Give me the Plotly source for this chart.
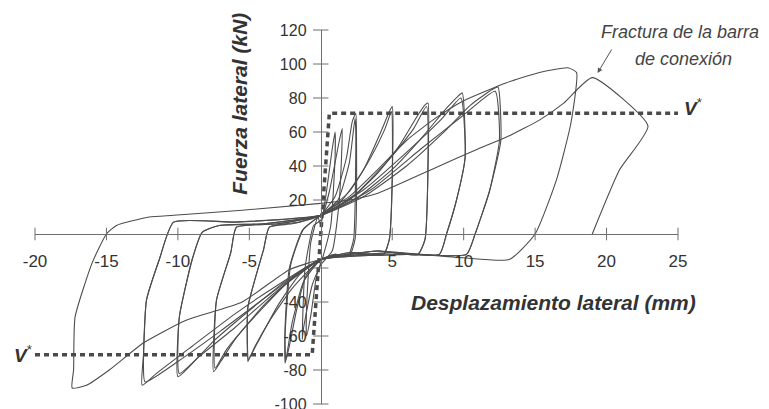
import plotly.graph_objects as go

# ---- hysteresis cycles (x: lateral displacement mm, y: lateral force kN) ----
c1_x = [0.0, 0.4, 0.8, 1.0, 1.0, 0.7, 0.2, -0.3, -0.7, -1.0, -1.0, -0.7, -0.2, 0.0]
c1_y = [5, 25, 50, 60, 45, 5, -12, -25, -48, -60, -45, -5, 10, 5]
c1b_x = [0.0, 0.6, 1.3, 1.5, 1.3, 0.8, 0.0, -0.6, -1.2, -1.3, -1.1, -0.5, 0.0]
c1b_y = [8, 25, 55, 62, 20, -10, -18, -30, -55, -62, -20, 5, 8]
c2_x = [0.0, 1.0, 1.8, 2.2, 2.45, 2.5, 2.4, 2.0, 1.0, 0.0, -1.0, -1.7, -2.2, -2.5, -2.5, -2.2, -1.3, -0.5, 0.0]
c2_y = [11, 22, 45, 66, 71, 55, -3, -13, -12, -15, -24, -45, -66, -76, -55, -20, 2, 8, 11]
c2b_x = [0.0, 1.2, 2.0, 2.4, 2.45, 2.3, 1.9, 1.0, 0.0, -1.2, -2.0, -2.45, -2.5, -2.1, -1.2, 0.0]
c2b_y = [11, 20, 42, 68, 60, -3, -13, -12, -15, -28, -52, -74, -60, -18, 3, 11]
c3_x = [0.0, 1.5, 3.0, 4.2, 4.8, 5.0, 5.0, 4.8, 4.4, 2.0, 0.0, -1.5, -3.0, -4.3, -5.0, -5.1, -5.1, -4.0, -3.6, -2.0, 0.0]
c3_y = [11, 20, 38, 60, 72, 75, 32, -3, -12, -11, -15, -24, -42, -62, -73, -75, -43, -9, 4, 6, 11]
c3b_x = [0.0, 2.0, 3.5, 4.5, 4.95, 5.0, 4.8, 4.4, 2.0, 0.0, -2.0, -3.5, -4.6, -5.05, -5.1, -4.0, -3.6, -1.5, 0.0]
c3b_y = [11, 25, 45, 62, 72, 32, -3, -12, -11, -15, -32, -50, -66, -74, -43, -9, 4, 7, 11]
c4_x = [0.0, 2.0, 4.0, 5.5, 6.8, 7.3, 7.5, 7.5, 7.3, 6.8, 4.0, 0.0, -2.0, -4.0, -6.0, -7.0, -7.5, -7.3, -6.3, -5.9, -3.0, 0.0]
c4_y = [11, 20, 36, 52, 70, 76, 77, 38, -3, -12, -10, -15, -26, -42, -62, -75, -81, -39, -11, 4, 6, 11]
c4b_x = [0.0, 2.5, 5.0, 6.5, 7.4, 7.5, 7.3, 6.8, 4.0, 0.0, -2.5, -5.0, -6.6, -7.4, -7.3, -6.3, -5.9, -3.0, 0.0]
c4b_y = [11, 24, 46, 62, 75, 38, -3, -12, -10, -15, -30, -52, -68, -79, -39, -11, 4, 6, 11]
c5_x = [0.0, 2.5, 5.0, 7.0, 8.8, 9.6, 9.9, 10.1, 9.5, 8.8, 8.3, 5.0, 0.0, -2.5, -5.0, -7.5, -9.2, -10.0, -9.9, -9.0, -8.3, -7.1, -4.0, 0.0]
c5_y = [11, 21, 38, 56, 74, 81, 83, 45, 20, 0, -12, -11, -15, -28, -45, -63, -78, -84, -49, -15, 1, 5, 6, 11]
c5b_x = [0.0, 3.0, 6.0, 8.5, 9.8, 10.1, 9.5, 8.8, 8.3, 5.0, 0.0, -3.0, -6.0, -8.5, -9.9, -9.9, -9.0, -8.3, -7.1, -4.0, 0.0]
c5b_y = [11, 26, 48, 68, 80, 45, 20, 0, -12, -11, -15, -33, -55, -72, -82, -49, -15, 1, 5, 6, 11]
c6_x = [0.0, 3.0, 6.0, 8.5, 10.5, 12.0, 12.4, 12.6, 11.8, 10.8, 10.2, 6.0, 0.0, -3.0, -6.0, -9.0, -11.5, -12.5, -12.4, -12.2, -11.3, -10.3, -6.0, 0.0]
c6_y = [11, 22, 40, 59, 76, 85, 86.5, 55, 25, 0, -12, -12, -15, -30, -47, -66, -82, -89, -70, -39, -15, 7, 7, 11]
c6b_x = [0.0, 3.5, 7.0, 10.0, 12.2, 12.5, 11.8, 10.8, 10.2, 6.0, 0.0, -3.5, -7.0, -10.0, -12.3, -12.4, -12.2, -11.3, -10.3, -6.0, 0.0]
c6b_y = [11, 26, 50, 70, 84, 55, 25, 0, -12, -12, -15, -35, -57, -75, -87, -70, -39, -15, 7, 7, 11]
c7_x = [0.0, 2.0, 4.0, 6.0, 8.0, 9.9, 13.0, 15.3, 17.3, 17.9, 17.5, 16.5, 15.0, 13.2, 10.0, 7.0, 4.0, 0.0,
        -2.2, -5.5, -9.5, -12.4, -14.8, -16.4, -17.4, -17.3, -17.2, -16.0, -15.0, -14.3, -12.0, -10.3, -5.5, 0.0]
c7_y = [12, 22, 38, 55, 68, 78, 89, 95, 97.8, 95, 65, 32, 0, -15, -14, -12, -10, -15,
        -21, -40, -51, -64, -80, -89, -90.6, -80, -49, -17, 0, 5, 10, 11, 14, 18]
c8_x = [0.0, 2.0, 4.0, 8.3, 11.0, 13.0, 15.3, 17.0, 19.0, 22.9, 20.9, 19.0]
c8_y = [18, 20, 24, 40, 50, 57, 67, 77, 92, 63.5, 37.6, 0]

cycles = [(c1_x, c1_y), (c1b_x, c1b_y), (c2_x, c2_y), (c2b_x, c2b_y), (c3_x, c3_y), (c3b_x, c3b_y),
          (c4_x, c4_y), (c4b_x, c4b_y), (c5_x, c5_y), (c5b_x, c5b_y), (c6_x, c6_y), (c6b_x, c6b_y),
          (c7_x, c7_y), (c8_x, c8_y)]

# idealised bilinear envelope V*
vstar_x = [-20, -0.6, 0.6, 25]
vstar_y = [-71, -71, 71, 71]

x_ticks = [-20, -15, -10, -5, 5, 10, 15, 20, 25]
x_ticktext = ["-20", "-15", "-10", "-5", "5", "10", "15", "20", "25"]
y_ticks = [-100, -80, -60, -40, 20, 40, 60, 80, 100, 120]
y_ticktext = ["-100", "-80", "-60", "-40", "20", "40", "60", "80", "100", "120"]
x_tick_marks = [-20, -15, -10, -5, 5, 10, 15, 20, 25]
y_tick_marks = [-100, -80, -60, -40, -20, 20, 40, 60, 80, 100, 120]

FONT = "Arial, Liberation Sans, sans-serif"
LINE = "#4d4d4d"
AXC = "#6e6e6e"
TXT = "#333333"

fig = go.Figure()
for cx, cy in cycles:
    fig.add_trace(go.Scatter(x=cx, y=cy, mode="lines",
                             line=dict(color=LINE, width=1.1, shape="spline", smoothing=0.5),
                             hoverinfo="skip", showlegend=False))

fig.add_trace(go.Scatter(x=vstar_x, y=vstar_y, mode="lines",
                         line=dict(color="#4a4a4a", width=3.5, dash="5px,4px"),
                         showlegend=False, hoverinfo="skip"))

# crossing tick marks
fig.add_trace(go.Scatter(x=x_tick_marks, y=[0] * len(x_tick_marks), mode="markers",
                         marker=dict(symbol="line-ns", size=9, line=dict(color=AXC, width=1)),
                         showlegend=False, hoverinfo="skip", cliponaxis=False))
fig.add_trace(go.Scatter(x=[0] * len(y_tick_marks), y=y_tick_marks, mode="markers",
                         marker=dict(symbol="line-ew", size=11, line=dict(color=AXC, width=1)),
                         showlegend=False, hoverinfo="skip", cliponaxis=False))

# page has an 8px body margin: figure is sized/positioned to compensate
fig.update_layout(
    width=761, height=401,
    margin=dict(l=27, r=91, t=22, b=5, autoexpand=False),
    paper_bgcolor="white", plot_bgcolor="white",
    font=dict(family=FONT, color=TXT, size=16),
    xaxis=dict(range=[-20, 25], anchor="free", position=100 / 220, showgrid=False, zeroline=False,
               showline=True, linecolor=AXC, linewidth=1, tickvals=x_ticks, ticktext=x_ticktext,
               ticks="", ticklabelstandoff=12, ticklabeloverflow="allow", automargin=False,
               tickfont=dict(size=17, color=TXT, family=FONT)),
    yaxis=dict(range=[-100, 120], anchor="free", position=20 / 45, showgrid=False, zeroline=False,
               showline=True, linecolor=AXC, linewidth=1, tickvals=y_ticks, ticktext=y_ticktext,
               ticks="", ticklabelstandoff=11, ticklabeloverflow="allow", automargin=False,
               tickfont=dict(size=16, color=TXT, family=FONT)),
    showlegend=False,
)

fig.add_annotation(x=-5.7, y=76.8, xref="x", yref="y", text="<b><i>Fuerza lateral (kN)</i></b>",
                   textangle=-90, showarrow=False, xanchor="center", yanchor="middle",
                   font=dict(size=21, color=TXT, family=FONT))
fig.add_annotation(x=16.3, y=-40, xref="x", yref="y", text="<b><i>Desplazamiento lateral (mm)</i></b>",
                   showarrow=False, xanchor="center", yanchor="middle",
                   font=dict(size=21, color=TXT, family=FONT))
fig.add_annotation(x=1.0031, y=0.9947, xref="paper", yref="paper", text="<i>Fractura de la barra</i>",
                   showarrow=False, xanchor="center", yanchor="middle",
                   font=dict(size=18, color="#444444", family=FONT))
fig.add_annotation(x=1.0093, y=0.9225, xref="paper", yref="paper", text="<i>de conexión</i>",
                   showarrow=False, xanchor="center", yanchor="middle",
                   font=dict(size=18, color="#444444", family=FONT))
fig.add_annotation(x=19.37, y=94.7, xref="x", yref="y", text="", showarrow=True,
                   ax=15, ay=-25, arrowhead=2, arrowsize=1, arrowwidth=1, arrowcolor="#555555")
fig.add_annotation(x=1.0062, y=0.794, xref="paper", yref="paper", text="<b><i>V</i></b><sup>*</sup>",
                   xanchor="left", yanchor="middle", showarrow=False,
                   font=dict(size=19, color=TXT, family=FONT))
fig.add_annotation(x=-0.0358, y=0.1337, xref="paper", yref="paper", text="<b><i>V</i></b><sup>*</sup>",
                   xanchor="left", yanchor="middle", showarrow=False,
                   font=dict(size=19, color=TXT, family=FONT))

fig.write_html("out.html")
